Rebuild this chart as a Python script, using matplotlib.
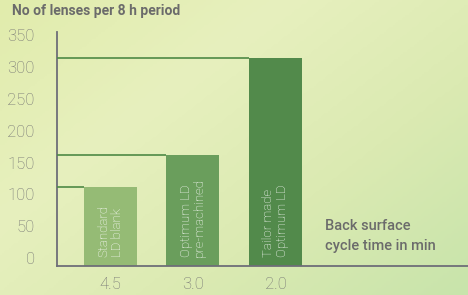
import numpy as np
import matplotlib
matplotlib.use("Agg")
import matplotlib.pyplot as plt
from matplotlib.colors import LinearSegmentedColormap

# data
cycle_times = ["4.5", "3.0", "2.0"]
lenses = [111, 162, 314]
bar_labels = ["Standard\nLD blank", "Optimum LD\npre-machined", "Tailor made\nOptimum LD"]
bar_colors = ["#95bb75", "#6a9e5c", "#528a4b"]
y_ticks = [0, 50, 100, 150, 200, 250, 300, 350]

plt.rcParams['font.family'] = ['Roboto', 'DejaVu Sans']

fig = plt.figure(figsize=(4.68, 2.95), dpi=100)

# soft green gradient background
bg = fig.add_axes([0, 0, 1, 1], zorder=-10)
bg.axis("off")
gx, gy = np.meshgrid(np.linspace(0, 1, 200), np.linspace(0, 1, 120))
t = 0.55 * gx + 0.45 * gy
cmap = LinearSegmentedColormap.from_list(
    "bg", ["#e1ecac", "#e7f0be", "#dbeab2", "#c8e4ab"])
bg.imshow(t, cmap=cmap, aspect="auto", extent=[0, 1, 0, 1], origin="upper")
bg.set_xlim(0, 1)
bg.set_ylim(0, 1)

ax = fig.add_axes([57 / 468, 1 - 266 / 295, (468 - 57) / 468, (266 - 32) / 295])
ax.patch.set_alpha(0)

ymin, ymax = -12.5, 355
x = np.arange(len(cycle_times))
width = 0.642

ax.bar(x, np.array(lenses) - ymin, bottom=ymin, width=width,
       color=bar_colors, zorder=2)

# connector lines from the y axis to each bar top
for i, v in enumerate(lenses):
    left = x[i] - width / 2
    ax.plot([-0.648, left], [v, v], color="#4e8a45", lw=1.2, zorder=3,
            solid_capstyle="butt")

for i, lab in enumerate(bar_labels):
    ax.text(x[i], ymin + 14, lab, rotation=90, ha="center", va="bottom",
            color="white", fontsize=9.5, fontweight="light",
            linespacing=1.05, multialignment="left", zorder=4)

ax.set_xlim(-0.648, 4.333)
ax.set_ylim(ymin, ymax)
ax.set_xticks(x)
ax.set_xticklabels(cycle_times)
ax.set_yticks(y_ticks)
ax.tick_params(axis="both", length=0, labelsize=12, labelcolor="#737373")
ax.tick_params(axis="y", pad=16)
ax.tick_params(axis="x", pad=8)
for lbl in ax.get_yticklabels() + ax.get_xticklabels():
    lbl.set_fontweight("light")

for s in ["top", "right"]:
    ax.spines[s].set_visible(False)
for s in ["left", "bottom"]:
    ax.spines[s].set_color("#6e6e78")
    ax.spines[s].set_linewidth(1.3)

fig.text(12 / 468, 1 - 11 / 295, "No of lenses per 8 h period", ha="left",
         va="center", fontsize=10, fontweight="bold", color="#6b6b6b")
ax.text(2.6, 35, "Back surface\ncycle time in min", ha="left", va="center",
        fontsize=10.5, fontweight="medium", color="#6b6b6b", linespacing=1.5)

fig.savefig("out.png", dpi=100)
